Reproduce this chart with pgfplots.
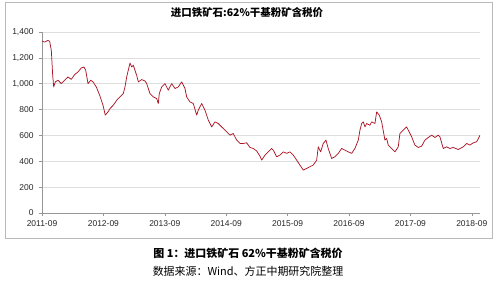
\documentclass[border=0pt]{standalone}
\usepackage{fontspec}
\setmainfont{Liberation Sans}
\newfontfamily\cjk{Noto Sans CJK SC}
\usepackage{pgfplots}
\pgfplotsset{compat=1.18}
\definecolor{ln}{RGB}{170,22,38}
\definecolor{gridc}{RGB}{222,222,222}
\definecolor{axc}{RGB}{150,150,150}
\pgfplotstableread{
m v
0.00 1330
0.53 1322
1.17 1335
1.50 1328
1.82 1258
2.09 1065
2.29 975
2.60 1014
3.13 1027
3.77 1001
4.44 1027
5.08 1052
5.73 1034
6.39 1071
7.04 1091
7.68 1122
8.21 1129
8.54 1104
8.99 1001
9.52 1027
9.97 1014
10.61 975
11.27 911
11.92 834
12.37 757
12.90 782
13.29 808
13.93 834
14.60 872
15.24 898
15.89 924
16.22 975
16.55 1052
16.86 1104
17.20 1160
17.53 1130
17.84 1143
18.17 1104
18.50 1065
18.82 1014
19.48 1032
20.13 1021
20.46 1001
21.10 924
21.75 898
22.41 885
22.73 847
22.92 924
23.39 975
24.03 1001
24.68 950
25.34 1001
25.99 963
26.63 975
27.30 1014
27.94 963
28.27 898
28.92 859
29.56 847
30.23 757
30.54 795
31.21 847
31.85 795
32.50 718
33.16 666
33.80 705
34.45 692
35.11 666
36.09 628
36.74 602
37.38 615
38.04 564
38.69 538
39.33 538
40.00 543
40.64 507
41.29 499
41.95 480
42.60 440
42.93 409
43.58 448
44.22 473
44.88 499
45.20 486
45.86 435
46.51 448
47.15 473
47.82 461
48.46 473
49.10 448
49.77 409
50.41 371
51.06 332
51.72 345
52.37 358
53.01 371
53.68 409
53.99 512
54.46 473
54.97 538
55.49 564
55.94 499
56.61 422
57.25 435
57.90 461
58.56 499
59.21 486
59.85 473
60.52 461
61.16 499
61.81 564
62.14 641
62.47 692
62.78 705
63.12 666
63.45 692
64.09 679
64.42 705
65.07 692
65.40 782
65.91 757
66.38 705
67.02 564
67.35 577
67.67 525
68.33 499
68.98 473
69.62 512
69.95 615
70.60 641
71.26 666
71.58 641
72.24 589
72.88 525
73.53 507
74.19 517
74.84 564
75.49 584
76.15 602
76.79 584
77.44 602
77.77 589
78.42 499
79.08 512
79.73 499
80.37 507
81.35 491
82.32 512
82.98 538
83.63 525
84.28 543
84.94 551
85.45 589
85.59 602
}\iron
\begin{document}
\begin{tikzpicture}[x=1bp,y=1bp]
\path (0,0) rectangle (500,283);
\draw[gray!55] (5,45) rectangle (492,281);
\begin{axis}[
  at={(42bp,70bp)}, anchor=south west,
  scale only axis, width=438bp, height=181bp,
  xmin=0, xmax=85.6, ymin=0, ymax=1400,
  xtick={0,12,...,84},
  xticklabels={2011-09,2012-09,2013-09,2014-09,2015-09,2016-09,2017-09,2018-09},
  ytick={0,200,...,1400},
  /pgf/number format/1000 sep={,},
  /pgf/number format/assume math mode=true,
  tick label style={font=\fontsize{8.5}{10}\selectfont, text=black!85},
  axis x line*=bottom, axis y line*=left,
  axis line style={axc,-},
  tick style={axc, line width=0.6pt},
  tick align=outside, major tick length=3bp,
  ymajorgrids, grid style={gridc, line width=0.6pt},
  xticklabel style={yshift=-1bp},
  yticklabel style={xshift=-2bp},
]
\addplot[ln, line width=0.75pt, line join=round] table[x=m,y=v] {\iron};
\end{axis}
\node[font=\cjk\bfseries\fontsize{10.5}{12}\selectfont] at (247,270) {进口铁矿石:62\%干基粉矿含税价};
\node[font=\cjk\bfseries\fontsize{11}{13}\selectfont] at (248,30) {图 1：进口铁矿石 62\%干基粉矿含税价};
\node[font=\cjk\fontsize{11}{13}\selectfont] at (248,12) {数据来源：Wind、方正中期研究院整理};
\end{tikzpicture}
\end{document}
